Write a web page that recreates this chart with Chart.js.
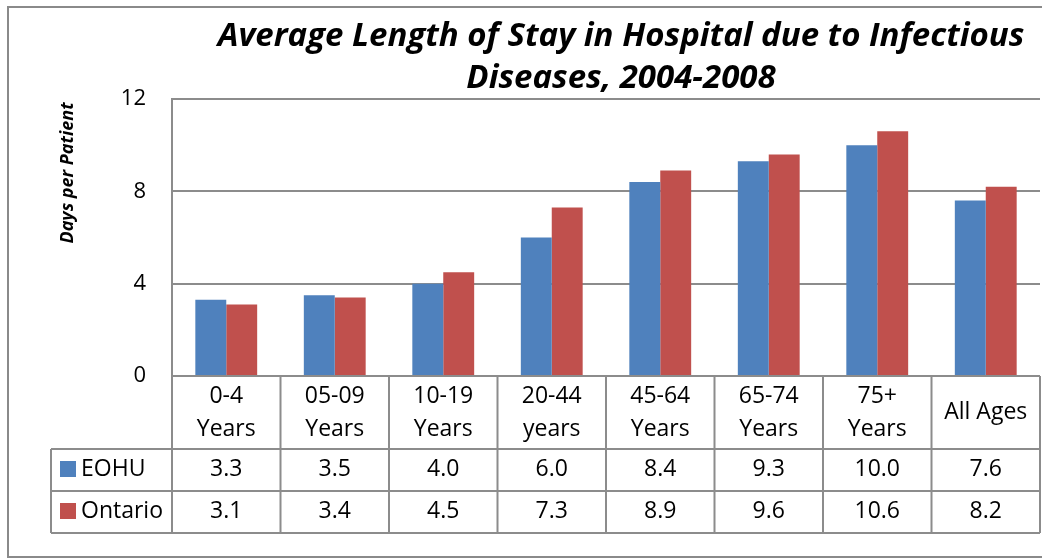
<!DOCTYPE html>
<html>
<head>
<meta charset="utf-8">
<script src="https://cdn.jsdelivr.net/npm/chart.js"></script>
<style>
  html, body { margin: 0; padding: 0; background: #fff; }
  #wrap { width: 1042px; height: 558px; }
</style>
</head>
<body>
<div id="wrap"><canvas id="los-chart" width="1042" height="558"></canvas></div>
<script>
// Chart data
const categories = [
  ['0-4', 'Years'], ['05-09', 'Years'], ['10-19', 'Years'], ['20-44', 'years'],
  ['45-64', 'Years'], ['65-74', 'Years'], ['75+', 'Years'], ['All Ages']
];
const seriesNames = ['EOHU', 'Ontario'];
const eohuValues = [3.3, 3.5, 4.0, 6.0, 8.4, 9.3, 10.0, 7.6];
const ontarioValues = [3.1, 3.4, 4.5, 7.3, 8.9, 9.6, 10.6, 8.2];
const titleLines = ['Average Length of Stay in Hospital due to Infectious', 'Diseases, 2004-2008'];
const yAxisTitle = 'Days per Patient';

const FONT = '"Open Sans", Lato, sans-serif';
const LINE = '#8c8c8c';

// draws frame, title, axis title and the data table under the plot
const tablePlugin = {
  id: 'dataTable',
  afterDraw(chart) {
    const ctx = chart.ctx;
    const area = chart.chartArea;
    const n = categories.length;
    const w = (area.right - area.left) / n;
    const rowTop = area.bottom, headBottom = 449, row1 = 491, row2 = 533, legLeft = 51;

    ctx.save();
    // outer frame
    ctx.strokeStyle = '#8a8a8a';
    ctx.lineWidth = 2;
    ctx.strokeRect(8, 7, 1040, 550);

    // title
    ctx.fillStyle = '#000';
    ctx.font = 'italic bold 33px ' + FONT;
    ctx.textAlign = 'center';
    ctx.textBaseline = 'middle';
    ctx.fillText(titleLines[0], 621, 37);
    ctx.fillText(titleLines[1], 621, 79);

    // y axis title
    ctx.save();
    ctx.translate(68, 173);
    ctx.rotate(-Math.PI / 2);
    ctx.font = 'italic bold 18px ' + FONT;
    ctx.fillText(yAxisTitle, 0, 0);
    ctx.restore();

    // table grid
    ctx.strokeStyle = LINE;
    ctx.lineWidth = 2;
    ctx.beginPath();
    [headBottom, row1, row2].forEach(y => {
      ctx.moveTo(legLeft, y); ctx.lineTo(area.right, y);
    });
    ctx.moveTo(legLeft, headBottom); ctx.lineTo(legLeft, row2);
    for (let i = 0; i <= n; i++) {
      const x = area.left + i * w;
      ctx.moveTo(x, rowTop); ctx.lineTo(x, row2);
    }
    ctx.stroke();

    // header labels
    ctx.fillStyle = '#000';
    ctx.font = '23px ' + FONT;
    const xs = chart.scales.x;
    categories.forEach((lab, i) => {
      const cx = xs.getPixelForValue(i);
      if (lab.length === 2) {
        ctx.fillText(lab[0], cx, 396);
        ctx.fillText(lab[1], cx, 429);
      } else {
        ctx.fillText(lab[0], cx, 412);
      }
    });

    // rows
    const rowMid = [469, 511];
    chart.data.datasets.forEach((ds, r) => {
      ctx.fillStyle = ds.backgroundColor;
      ctx.fillRect(60, rowMid[r] - 8, 16, 16);
      ctx.fillStyle = '#000';
      ctx.textAlign = 'left';
      ctx.fillText(ds.label, 81, rowMid[r]);
      ctx.textAlign = 'center';
      ds.data.forEach((v, i) => {
        ctx.fillText(v.toFixed(1), xs.getPixelForValue(i), rowMid[r]);
      });
    });
    ctx.restore();
  }
};

new Chart(document.getElementById('los-chart'), {
  type: 'bar',
  data: {
    labels: categories,
    datasets: [
      { label: seriesNames[0], data: eohuValues, backgroundColor: '#4f81bd' },
      { label: seriesNames[1], data: ontarioValues, backgroundColor: '#c0504d' }
    ]
  },
  options: {
    responsive: false,
    animation: false,
    layout: { padding: { top: 99, bottom: 182, left: 0, right: 2 } },
    datasets: { bar: { categoryPercentage: 0.57, barPercentage: 1 } },
    plugins: { legend: { display: false }, title: { display: false }, tooltip: { enabled: false } },
    scales: {
      x: { display: false },
      y: {
        min: 0, max: 12,
        afterFit(scale) { scale.width = 172; },
        ticks: { stepSize: 4, color: '#000', padding: 26, font: { family: FONT, size: 22 } },
        grid: { color: LINE, lineWidth: 2, drawTicks: false },
        border: { color: LINE, width: 2 }
      }
    }
  },
  plugins: [tablePlugin]
});
</script>
</body>
</html>
